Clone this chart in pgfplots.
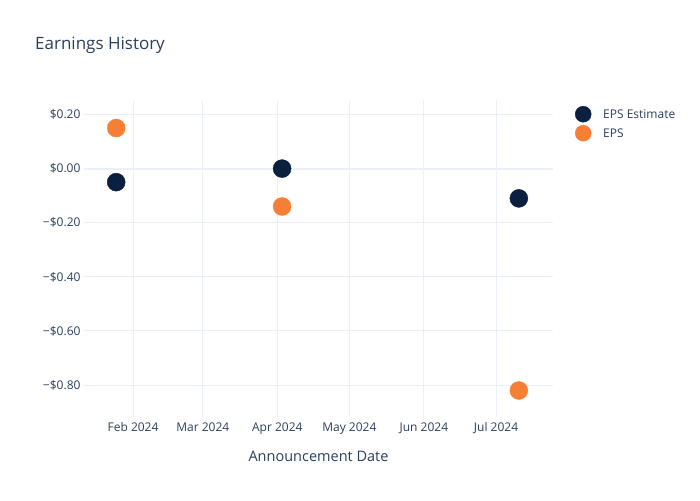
\documentclass[border=0pt]{standalone}
\usepackage{pgfplots}
\pgfplotsset{compat=1.18}
\usepackage{fontspec}
\setmainfont{Open Sans}
\definecolor{txt}{HTML}{2A3F5F}
\definecolor{grd}{HTML}{EBF0F8}
\definecolor{navy}{HTML}{0B1F3F}
\definecolor{orng}{HTML}{F77F35}
\begin{document}
\begin{tikzpicture}
\path[use as bounding box] (0pt,0pt) rectangle (700pt,500pt);
\node[anchor=base west,text=txt,font=\fontsize{17}{20}\selectfont,inner sep=0] at (35pt,450pt) {Earnings History};
\begin{axis}[
  at={(84pt,83pt)}, anchor=south west,
  scale only axis, width=469pt, height=317pt,
  xmin=10.6, xmax=205.7, ymin=-0.918, ymax=0.2536,
  axis line style={draw=none},
  major tick length=0pt,
  xtick={31,60,91,121,152,182},
  xticklabels={Feb 2024,Mar 2024,Apr 2024,May 2024,Jun 2024,Jul 2024},
  ytick={-0.8,-0.6,-0.4,-0.2,0,0.2},
  yticklabels={−\$0.80,−\$0.60,−\$0.40,−\$0.20,\$0.00,\$0.20},
  grid=major, major grid style={grd, line width=1pt},
  tick label style={text=txt, font=\fontsize{12}{14}\selectfont},
  xticklabel style={yshift=-2pt},
  xlabel={Announcement Date},
  xlabel style={text=txt, font=\fontsize{14.5}{17}\selectfont, yshift=-10pt},
  legend style={at={(1.0,1.0)}, anchor=north west, xshift=19pt, yshift=-4pt, draw=none, fill=none,
    font=\fontsize{12}{14}\selectfont, text=txt, row sep=3pt,
    nodes={inner sep=1pt, text depth=0pt}},
  legend image code/.code={\path[draw=none,fill=none] (0pt,0pt) -- (27pt,0pt); \path[#1, mark size=8pt] plot coordinates {(8pt,0pt)};},
  legend cell align=left,
  clip=false,
]
\draw[grd, line width=2pt] (axis cs:10.6,0) -- (axis cs:205.7,0);
\addplot[only marks, mark=*, mark size=9pt, color=navy] coordinates {(24,-0.05) (93,0.00) (191.5,-0.11)};
\addlegendentry{EPS Estimate}
\addplot[only marks, mark=*, mark size=9pt, color=orng] coordinates {(24,0.15) (93,-0.14) (191.5,-0.82)};
\addlegendentry{EPS}
\end{axis}
\end{tikzpicture}
\end{document}
